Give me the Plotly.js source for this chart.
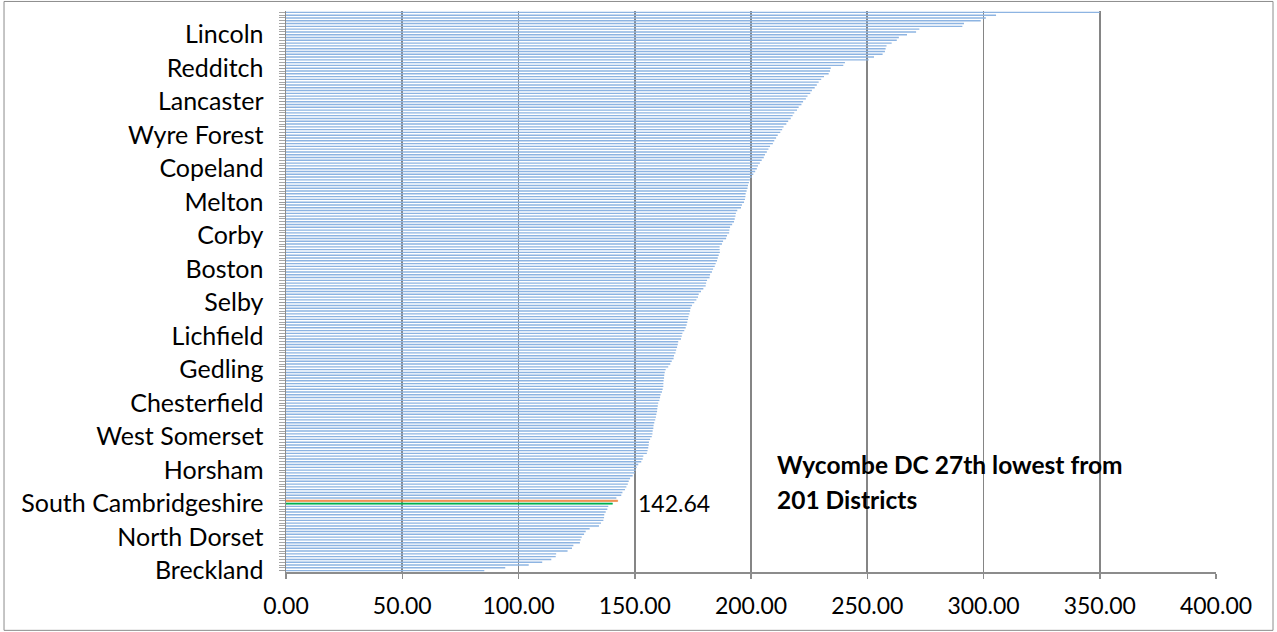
<!DOCTYPE html>
<html><head><meta charset="utf-8">
<script src="https://cdn.plot.ly/plotly-3.0.1.min.js"></script>
<style>html,body{margin:0;padding:0;background:#fff;} #chart{width:1277px;height:632px;}</style>
</head><body><div id="chart"></div>
<script>
// District values sorted ascending (index 0 = lowest, bottom of chart)
const values = [
  85.3, 94.3, 104.4, 110.2, 114.1, 116.0, 116.2, 121.1, 123.0, 123.6,
  126.4, 126.7, 127.2, 128.2, 128.9, 130.6, 134.6, 135.5, 136.5, 136.8,
  136.9, 137.5, 138.2, 138.6, 140.4, 142.64, 142.1, 144.2, 144.7, 145.8,
  146.4, 147.0, 147.4, 148.0, 149.1, 150.1, 150.5, 150.8, 151.5, 152.8,
  153.4, 153.7, 155.2, 155.5, 155.8, 156.0, 156.1, 156.6, 157.3, 157.6,
  157.7, 158.0, 158.1, 158.4, 158.8, 159.1, 159.3, 159.6, 159.7, 159.9,
  160.1, 160.6, 160.9, 161.1, 161.7, 162.0, 162.3, 162.3, 162.4, 162.6,
  162.7, 162.9, 163.3, 164.4, 165.3, 165.9, 166.7, 166.9, 167.5, 167.8,
  168.2, 168.5, 168.7, 169.9, 170.2, 170.5, 171.3, 171.9, 172.3, 172.6,
  172.9, 173.1, 173.5, 173.8, 174.0, 174.6, 175.6, 176.5, 177.2, 177.5,
  178.5, 179.5, 180.5, 180.7, 181.1, 182.2, 182.4, 183.2, 183.7, 184.4,
  184.8, 185.4, 185.7, 186.1, 186.6, 186.5, 186.5, 187.5, 188.0, 189.3,
  189.7, 190.6, 190.7, 191.0, 191.9, 192.7, 193.0, 193.3, 193.5, 194.1,
  195.7, 196.1, 197.0, 197.4, 197.6, 197.7, 198.1, 198.5, 198.7, 199.1,
  199.5, 200.3, 201.0, 201.8, 202.5, 203.0, 203.8, 204.6, 205.5, 206.0,
  206.8, 207.5, 208.2, 209.4, 210.0, 210.8, 211.5, 212.6, 213.4, 214.0,
  215.2, 216.0, 217.1, 217.9, 218.6, 219.8, 220.5, 221.7, 222.4, 223.6,
  224.3, 225.5, 226.2, 227.4, 228.3, 229.1, 230.2, 231.4, 233.4, 234.0,
  234.3, 239.7, 240.4, 250.6, 252.9, 256.6, 257.6, 257.9, 258.3, 260.5,
  262.7, 263.6, 267.1, 271.0, 272.4, 290.9, 291.6, 298.8, 301.0, 305.4,
  350.0
];
// Labelled districts, one every 12 places from the bottom
const labeledDistricts = ["Breckland","North Dorset","South Cambridgeshire","Horsham",
  "West Somerset","Chesterfield","Gedling","Lichfield","Selby","Boston","Corby",
  "Melton","Copeland","Wyre Forest","Lancaster","Redditch","Lincoln"];
const labelEvery = 12;
const wycombeIndex = 25;      // orange bar
const compareIndex = 24;      // green bar
const wycombeLabel = "142.64";
const noteLines = ["Wycombe DC 27th lowest from", "201 Districts"];

const positions = values.map((v, i) => i);
const colors = values.map((v, i) => i === wycombeIndex ? '#ED7D31' : (i === compareIndex ? '#00B050' : '#8DB4E2'));
const lineWidths = values.map((v, i) => (i === wycombeIndex || i === compareIndex) ? 0.5 : 0);
const tickvals = labeledDistricts.map((n, k) => k * labelEvery);

const FONT = 'Lato, "Open Sans", sans-serif';

const trace = {
  type: 'bar', orientation: 'h',
  x: values, y: positions,
  marker: {color: colors, line: {width: lineWidths, color: colors}},
  hoverinfo: 'skip'
};

const layout = {
  width: 1277, height: 632,
  margin: {l: 286, r: 61, t: 11, b: 60},
  paper_bgcolor: '#fff', plot_bgcolor: '#fff',
  showlegend: false,
  bargap: 0.5,
  font: {family: FONT, size: 23, color: '#000'},
  xaxis: {
    range: [0, 400], dtick: 50, tick0: 0, tickformat: '.2f',
    showgrid: true, gridcolor: '#858585', gridwidth: 1.6,
    showline: true, linecolor: '#8c8c8c', linewidth: 1.5,
    ticks: 'outside', ticklen: 5, tickcolor: '#8c8c8c', tickwidth: 1.5,
    ticklabelstandoff: 8,
    zeroline: false, fixedrange: true,
    tickfont: {family: FONT, size: 23, color: '#000'}
  },
  yaxis: {
    range: [-0.5, values.length - 0.5],
    tickmode: 'array', tickvals: tickvals, ticktext: labeledDistricts,
    ticks: 'outside', ticklen: 6, tickcolor: '#9a9a9a',
    ticklabelstandoff: 10,
    showline: true, linecolor: '#8c8c8c', linewidth: 1.5,
    showgrid: false, zeroline: false, fixedrange: true,
    minor: {tickmode: 'linear', tick0: 0, dtick: 1, ticks: 'outside', ticklen: 6, tickcolor: '#a6a6a6', tickwidth: 1, showgrid: false},
    tickfont: {family: FONT, size: 25, color: '#000'}
  },
  annotations: [
    {x: values[wycombeIndex] + 8, y: wycombeIndex - 0.9, xref: 'x', yref: 'y', text: wycombeLabel,
     showarrow: false, xanchor: 'left', yanchor: 'middle', font: {family: FONT, size: 23, color: '#000'}},
    {x: 210.3, y: 37.9, xref: 'x', yref: 'y', text: '<b>' + noteLines[0] + '</b>',
     showarrow: false, xanchor: 'left', yanchor: 'middle', font: {family: FONT, size: 24.5, color: '#000'}},
    {x: 210.3, y: 25.4, xref: 'x', yref: 'y', text: '<b>' + noteLines[1] + '</b>',
     showarrow: false, xanchor: 'left', yanchor: 'middle', font: {family: FONT, size: 24.5, color: '#000'}}
  ],
  shapes: [
    {type: 'rect', xref: 'paper', yref: 'paper', x0: -0.3032, x1: 1.0613, y0: -0.104, y1: 1.017,
     line: {color: '#8c8c8c', width: 1}, fillcolor: 'rgba(0,0,0,0)', layer: 'below'}
  ]
};

Plotly.newPlot('chart', [trace], layout, {displayModeBar: false, staticPlot: true});
</script>
</body></html>
